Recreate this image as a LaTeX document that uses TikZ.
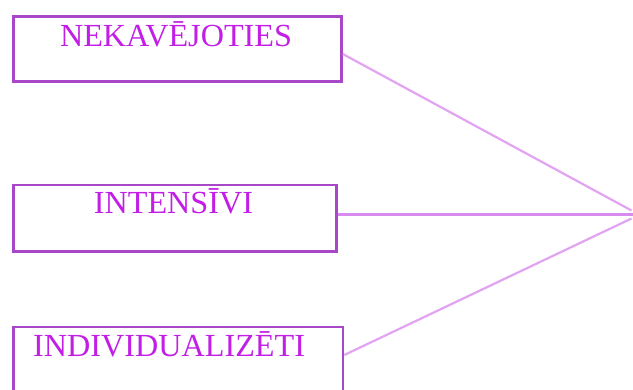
\documentclass[tikz,border=0pt]{standalone}
\usepackage{fontspec}
\setmainfont{Liberation Serif}
\definecolor{boxline}{HTML}{A848C8}
\definecolor{txtcol}{HTML}{C21EE6}
\definecolor{linkcol}{HTML}{E2A4F2}
\definecolor{linkmid}{HTML}{D88AEE}
\begin{document}
\begin{tikzpicture}[x=1pt,y=-1pt,
  box/.style={draw=boxline, line width=2.8pt, fill=white, rectangle, anchor=north west, inner sep=0pt},
  lbl/.style={text=txtcol, font=\fontsize{32.2}{37}\selectfont, inner sep=0pt, anchor=base},
  link/.style={draw=linkcol, line width=2.2pt}]
\useasboundingbox (0,0) rectangle (633,389);
\clip (0,0) rectangle (633,389);
\fill[white] (0,0) rectangle (633,389);
\node[box, minimum width=328pt, minimum height=65pt] (b1) at (12,15) {};
\node[box, minimum width=323pt, minimum height=66.5pt] (b2) at (12,183.5) {};
\node[box, minimum width=329.5pt, minimum height=80pt] (b3) at (12,325.5) {};
\node[lbl] (t1) at (176,46.7) {NEKAVĒJOTIES};
\node[lbl] (t2) at (173.5,213.3) {INTENSĪVI};
\node[lbl, anchor=base west] (t3) at (33,356.7) {INDIVIDUALIZĒTI};
\coordinate (p1) at (631.5,210.5);
\coordinate (p2) at (633,214.5);
\coordinate (p3) at (631.5,218.5);
\draw[link] (b1.east |- 0,54) -- (p1);
\draw[link, draw=linkmid] (b2.east |- 0,214.5) -- (p2);
\draw[link] (b3.north east |- 0,355) -- (p3);
\end{tikzpicture}
\end{document}
